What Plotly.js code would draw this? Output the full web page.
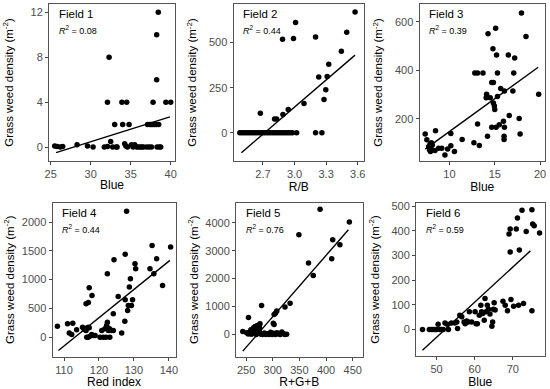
<!DOCTYPE html>
<html><head><meta charset="utf-8">
<script src="https://cdn.plot.ly/plotly-3.0.1.min.js"></script>
<style>html,body{margin:0;padding:0;background:#fff}#chart{width:550px;height:389px}</style>
</head><body><div id="chart"></div>
<script>
// ---- Field 1 (Blue) ----
const f1x = [25.5,25.8,26.2,26.5,28.3,29.6,30.3,31.7,32.1,32.75,33.2,33.3,34.25,34.4,34.6,35.1,35.3,35.5,35.75,35.95,36.2,36.4,36.6,37.0,37.3,37.6,38.3,38.6,38.75,
  32.5,33.0,34.0,34.8,37.1,37.4,37.6,37.8,38.0,38.2,38.5,32.1,33.9,34.5,37.8,39.4,40.0,38.25,32.3,38.25,38.45];
const f1y = [0.1,0.05,0,0.05,0.2,0.1,0,0,0.05,0,0,0,0.3,0.1,0,0.2,0,0.2,0,0,0,0,0,0,0,0,0,0,0,
  0.5,2,2,2,2,2,2,2,2,2,2,4,4,4,4,4,4,6,8,10,12];
const f1fitX = [25.67, 39.9], f1fitY = [-0.5, 2.69];
// ---- Field 2 (R/B) ----
const f2x = [2.48,2.50,2.52,2.54,2.56,2.58,2.60,2.62,2.64,2.66,2.68,2.70,2.72,2.74,2.76,2.78,2.80,2.82,2.84,2.86,2.88,2.90,2.92,2.94,2.96,2.98,3.02,3.20,3.26,
  2.675,2.81,2.83,2.89,2.94,3.09,2.886,2.99,3.01,3.20,3.23,3.297,3.28,3.325,3.31,3.445,3.496,3.575];
const f2y = [0,0,0,0,0,0,0,0,0,0,0,0,0,0,0,0,0,0,0,0,0,0,0,0,0,0,0,0,0,
  108,77,77,101,129,162,518,522,610,531,309,239,184,379,312,452,557,669];
const f2fitX = [2.495, 3.575], f2fitY = [-110, 430];
// ---- Field 3 (Blue) ----
const f3x = [7.32,7.5,7.7,7.8,7.9,7.95,8.0,8.1,7.85,8.0,8.46,8.4,8.8,9.15,9.5,9.8,10.15,10.15,10.55,11.4,12.7,12.8,13.1,13.1,13.3,13.7,14.05,14.1,14.2,14.26,14.5,14.67,14.8,14.85,14.85,14.67,14.96,15.0,15.1,15.15,15.2,15.3,15.3,15.5,15.66,15.96,16.07,16.03,16.03,16.07,16.5,16.6,17.0,17.1,17.2,17.7,17.8,17.95,18.45,19.85];
const f3y = [137,114,85,72,65,78,100,92,95,100,151,69,79,79,51,76,139,89,65,115,101,389,389,179,90,389,287,301,128,551,287,350,489,350,265,165,253,239,574,165,464,292,389,176,325,190,315,128,115,165,464,214,315,389,451,201,137,637,540,301];
const f3fitX = [7.32, 19.8], f3fitY = [75, 413];
// ---- Field 4 (Red index) ----
const f4x = [108.1,111.0,111.5,112.2,112.5,113.6,115.3,115.7,116.0,116.3,116.7,116.95,117.2,116.3,116.95,117.2,118.0,116.5,116.95,117.4,117.9,118.4,118.9,
  120.3,120.8,121.2,121.7,122.0,122.2,122.4,122.7,123.0,123.1,123.6,124.1,122.4,124.1,124.3,125.5,126.5,127.4,127.5,127.9,127.5,128.2,128.4,128.7,129.0,129.3,129.6,130.3,130.5,134.6,135.2,135.7,136.5,138.2,140.5];
const f4y = [191,232,70,46,243,128,174,145,128,116,162,174,162,580,603,858,725,0,0,17,46,29,29,
  0,116,0,145,0,203,261,116,145,0,116,116,1101,406,1345,707,70,278,649,2186,1438,464,551,870,1014,551,649,1275,1188,1188,1594,1101,1362,899,1565];
const f4fitX = [108.4, 140.3], f4fitY = [-232, 1333];
// ---- Field 5 (R+G+B) ----
const f5x = [243.75,254.4,251,254,257,260,263,266,269,272,275,278,281,284,287,290,293,296,299,302,305,308,311,314,317,320,323,326,
  267,271,276,270,275,264,259,279,301,302.5,302.5,307.5,305,323,332.5,349,367,376,388.75,410.6,412.5,426,443.75];
const f5y = [107,609,60,20,90,10,120,40,0,60,100,10,0,50,0,30,0,80,0,40,0,60,20,0,90,30,0,10,
  287,322,382,203,239,239,167,1039,406,358,716,836,764,979,1122,3570,2555,2113,4478,2710,3391,3212,4024];
const f5fitX = [243.75, 441.9], f5fitY = [-597, 3749];
// ---- Field 6 (Blue) ----
const f6x = [46.3,48.1,48.7,49.1,49.6,50,50.4,50.9,51.3,51.75,52.2,52.8,53.1,53.9,54.8,55.5,55.3,56.1,56.6,57.2,57.5,57.9,58.6,58.3,59.2,60.1,60.35,60.7,61.2,61.6,61.8,62.1,62.5,62.7,63,63.3,63.6,64,64.5,64.7,64.9,65.1,65.35,67.4,68,68.6,69,69.3,69.3,69.5,70.2,70.9,71.2,71.5,71.7,72.4,72.8,73.5,75,75,75.2,75.6,77];
const f6y = [0,0,0,0,0,0,22,0,0,0,27,22,0,27,27,4,31,58,52,31,24,35,72,31,31,72,24,24,58,99,72,65,38,126,72,99,82,63,14,31,82,109,79,115,99,76,387,408,314,122,95,408,452,99,323,484,106,398,486,76,428,421,391];
const f6fitX = [46.3, 74.6], f6fitY = [-84, 319];

const xTitles = ['Blue','R/B','Blue','Red index','R+G+B','Blue'];
const fieldNames = ['Field 1','Field 2','Field 3','Field 4','Field 5','Field 6'];
const r2Values = ['0.08','0.44','0.39','0.44','0.76','0.59'];
const xTicks = [[25,30,35,40],[2.7,3.0,3.3,3.6],[10,15,20],[110,120,130,140],[250,300,350,400,450],[50,60,70]];
const xTickText = [null,['2.7','3.0','3.3','3.6'],null,null,null,null];
const yTicks = [[0,4,8,12],[0,250,500],[200,400,600],[0,500,1000,1500,2000],[0,1000,2000,3000,4000],[0,100,200,300,400,500]];

const pts = [[f1x,f1y],[f2x,f2y],[f3x,f3y],[f4x,f4y],[f5x,f5y],[f6x,f6y]];
const fits = [[f1fitX,f1fitY],[f2fitX,f2fitY],[f3fitX,f3fitY],[f4fitX,f4fitY],[f5fitX,f5fitY],[f6fitX,f6fitY]];

// layout geometry (pixels)
const W = 550, H = 389;
const boxes = [[49,175,4,161],[233.5,364,4,161],[419.5,545,4,161],[52.5,175.5,203,356.5],[236,362.7,203,356.5],[416,544.5,203,356]];
const xRanges = [[24.79,40.54],[2.42,3.66],[6.69,20.55],[106.7,141.9],[231,468.75],[44.6,78.3]];
const yRanges = [[-1.24,12.74],[-156,713],[26,674],[-336,2330],[-788,4705],[-107,513]];
const yStandoff = [14,9,9,4,4,9];

const traces = [];
const layout = {
  width: W, height: H, margin: {l:0,r:0,t:0,b:0}, showlegend: false,
  paper_bgcolor: '#fff', plot_bgcolor: '#fff',
  font: {family: 'Liberation Sans, Arial, sans-serif', color: '#000'},
  annotations: []
};
for (let i = 0; i < 6; i++) {
  const n = i + 1, sx = n === 1 ? '' : String(n);
  traces.push({x: pts[i][0], y: pts[i][1], type: 'scatter', mode: 'markers',
    marker: {color: '#000', size: 5.5}, xaxis: 'x'+sx, yaxis: 'y'+sx, hoverinfo: 'skip'});
  traces.push({x: fits[i][0], y: fits[i][1], type: 'scatter', mode: 'lines',
    line: {color: '#000', width: 1.4}, xaxis: 'x'+sx, yaxis: 'y'+sx, hoverinfo: 'skip'});
  const b = boxes[i];
  const common = {showgrid: false, zeroline: false, showline: true, mirror: true, linecolor: '#555', linewidth: 1,
    ticks: 'outside', ticklen: 3, tickcolor: '#444', tickwidth: 1,
    tickfont: {size: 11, color: '#4d4d4d', family: 'Liberation Sans, Arial, sans-serif'}};
  layout['xaxis'+sx] = Object.assign({}, common, {
    domain: [b[0]/W, b[1]/W], range: xRanges[i], tickvals: xTicks[i], anchor: 'y'+sx,
    title: {text: xTitles[i], font: {size: 12, color: '#000'}, standoff: 1}
  });
  if (xTickText[i]) layout['xaxis'+sx].ticktext = xTickText[i];
  layout['yaxis'+sx] = Object.assign({}, common, {
    domain: [1 - b[3]/H, 1 - b[2]/H], range: yRanges[i], tickvals: yTicks[i], anchor: 'x'+sx,
    title: {text: 'Grass weed density (m<sup>-2</sup>)', font: {size: 11.5, color: '#000'}, standoff: yStandoff[i]}
  });
  layout.annotations.push({xref: 'x'+sx+' domain', yref: 'y'+sx+' domain', x: 0.06, y: 0.985,
    xanchor: 'left', yanchor: 'top', showarrow: false, text: fieldNames[i], font: {size: 11.5, color: '#000', weight: 'normal'}});
  layout.annotations.push({xref: 'x'+sx+' domain', yref: 'y'+sx+' domain', x: 0.06, y: 0.885,
    xanchor: 'left', yanchor: 'top', showarrow: false, text: '<i>R</i><sup>2</sup> = ' + r2Values[i], font: {size: 9, color: '#000'}});
}
Plotly.newPlot('chart', traces, layout, {staticPlot: true, displayModeBar: false});
</script></body></html>
